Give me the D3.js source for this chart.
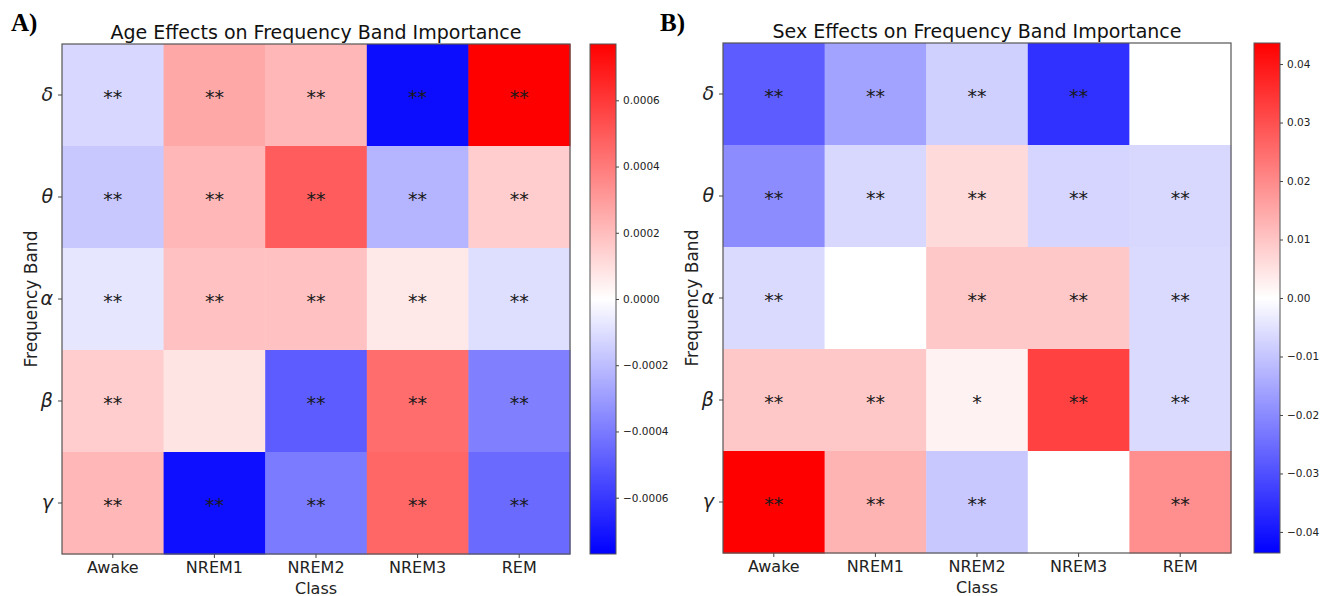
<!DOCTYPE html>
<html>
<head>
<meta charset="utf-8">
<script src="https://cdn.jsdelivr.net/npm/d3@7"></script>
<style>
  html, body { margin: 0; padding: 0; background: #fff; }
  svg { display: block; font-family: "DejaVu Sans", sans-serif; }
</style>
</head>
<body>
<svg id="chart" width="1322" height="596"></svg>
<script>
// ---- data ----
const classes = ["Awake", "NREM1", "NREM2", "NREM3", "REM"];
const bands = ["δ", "θ", "α", "β", "γ"];

// rows = bands (δ, θ, α, β, γ), columns = classes
const ageValues = [
  [-0.000121, 0.000263, 0.000218, -0.000735, 0.00077],
  [-0.000167, 0.000218, 0.00049, -0.000227, 0.000151],
  [-0.000076, 0.000188, 0.000188, 0.00007, -0.0001],
  [0.000151, 0.000082, -0.00049, 0.00044, -0.000385],
  [0.000218, -0.000725, -0.0004, 0.00046, -0.00045]
];
const ageStars = [
  ["**", "**", "**", "**", "**"],
  ["**", "**", "**", "**", "**"],
  ["**", "**", "**", "**", "**"],
  ["**", "", "**", "**", "**"],
  ["**", "**", "**", "**", "**"]
];
const sexValues = [
  [-0.0279, -0.0159, -0.008, -0.0354, 0],
  [-0.0197, -0.0067, 0.0063, -0.0072, -0.0067],
  [-0.0063, 0, 0.0094, 0.0094, -0.0063],
  [0.0094, 0.0094, 0.0022, 0.0325, -0.0063],
  [0.0436, 0.0128, -0.0094, 0, 0.0193]
];
const sexStars = [
  ["**", "**", "**", "**", ""],
  ["**", "**", "**", "**", "**"],
  ["**", "", "**", "**", "**"],
  ["**", "**", "*", "**", "**"],
  ["**", "**", "**", "", "**"]
];
const ageLimit = 0.00077;
const sexLimit = 0.0436;
const ageTicks = [-0.0006, -0.0004, -0.0002, 0, 0.0002, 0.0004, 0.0006];
const ageTickLabels = ["−0.0006", "−0.0004", "−0.0002", "0.0000", "0.0002", "0.0004", "0.0006"];
const sexTicks = [-0.04, -0.03, -0.02, -0.01, 0, 0.01, 0.02, 0.03, 0.04];
const sexTickLabels = ["−0.04", "−0.03", "−0.02", "−0.01", "0.00", "0.01", "0.02", "0.03", "0.04"];

const titles = ["Age Effects on Frequency Band Importance", "Sex Effects on Frequency Band Importance"];
const panelLabels = ["A)", "B)"];

// ---- drawing ----
const svg = d3.select("#chart");
const defs = svg.append("defs");

function drawPanel(opts) {
  const { id, left, right, top, bottom, values, stars, limit, ticks, tickLabels, title, label, labelX, cbLeft } = opts;
  const g = svg.append("g");

  const x = d3.scaleBand().domain(classes).range([left, right]);
  const y = d3.scaleBand().domain(bands).range([top, bottom]);
  const color = d3.scaleLinear().domain([-limit, 0, limit]).range(["#0000ff", "#ffffff", "#ff0000"]).clamp(true);

  const cells = [];
  bands.forEach((b, i) => classes.forEach((c, j) => cells.push({ b, c, v: values[i][j], s: stars[i][j] })));

  g.selectAll("rect.cell").data(cells).join("rect")
    .attr("class", "cell")
    .attr("x", d => x(d.c))
    .attr("y", d => y(d.b))
    .attr("width", x.bandwidth() + 0.5)
    .attr("height", y.bandwidth() + 0.5)
    .attr("fill", d => color(d.v));

  g.selectAll("text.star").data(cells).join("text")
    .attr("class", "star")
    .attr("x", d => x(d.c) + x.bandwidth() / 2)
    .attr("y", d => y(d.b) + y.bandwidth() / 2 + 9)
    .attr("text-anchor", "middle")
    .attr("font-size", 19)
    .attr("fill", "#1a1a1a")
    .text(d => d.s);

  // frame
  g.append("rect")
    .attr("x", left).attr("y", top)
    .attr("width", right - left).attr("height", bottom - top)
    .attr("fill", "none").attr("stroke", "#555").attr("stroke-width", 1.2);

  // x axis
  const xAxis = g.append("g").attr("transform", `translate(0,${bottom})`)
    .call(d3.axisBottom(x).tickSize(4).tickPadding(4));
  xAxis.select(".domain").remove();
  xAxis.selectAll(".tick line").attr("stroke", "#444");
  xAxis.selectAll(".tick text").attr("font-size", 16).attr("fill", "#222")
    .attr("font-family", "DejaVu Sans, sans-serif");

  // y axis
  const yAxis = g.append("g").attr("transform", `translate(${left},0)`)
    .call(d3.axisLeft(y).tickSize(4).tickPadding(5));
  yAxis.select(".domain").remove();
  yAxis.selectAll(".tick line").attr("stroke", "#444");
  yAxis.selectAll(".tick text").attr("font-size", 19).attr("fill", "#222")
    .attr("font-style", "italic")
    .attr("font-family", "DejaVu Sans, sans-serif");

  // axis titles
  g.append("text")
    .attr("x", (left + right) / 2).attr("y", bottom + 40)
    .attr("text-anchor", "middle").attr("font-size", 16).attr("fill", "#222")
    .text("Class");
  g.append("text")
    .attr("transform", `translate(${left - 25},${(top + bottom) / 2}) rotate(-90)`)
    .attr("text-anchor", "middle").attr("font-size", 17).attr("fill", "#222")
    .text("Frequency Band");

  // title
  g.append("text")
    .attr("x", (left + right) / 2).attr("y", top - 5)
    .attr("text-anchor", "middle").attr("font-size", 19).attr("fill", "#111")
    .text(title);

  // panel label
  g.append("text")
    .attr("x", labelX).attr("y", 31)
    .attr("font-family", "Liberation Serif, serif").attr("font-weight", "bold")
    .attr("font-size", 25).attr("fill", "#000")
    .text(label);

  // colorbar
  const cbW = 26;
  const cbScale = d3.scaleLinear().domain([-limit, limit]).range([bottom, top]);
  const grad = defs.append("linearGradient").attr("id", "grad" + id)
    .attr("x1", 0).attr("y1", 1).attr("x2", 0).attr("y2", 0);
  grad.append("stop").attr("offset", "0%").attr("stop-color", color(-limit));
  grad.append("stop").attr("offset", "50%").attr("stop-color", color(0));
  grad.append("stop").attr("offset", "100%").attr("stop-color", color(limit));
  g.append("rect")
    .attr("x", cbLeft).attr("y", top).attr("width", cbW).attr("height", bottom - top)
    .attr("fill", `url(#grad${id})`).attr("stroke", "#555").attr("stroke-width", 1);
  const cbAxis = g.append("g").attr("transform", `translate(${cbLeft + cbW},0)`)
    .call(d3.axisRight(cbScale).tickValues(ticks).tickFormat((d, i) => tickLabels[i]).tickSize(3).tickPadding(4));
  cbAxis.select(".domain").remove();
  cbAxis.selectAll(".tick line").attr("stroke", "#444");
  cbAxis.selectAll(".tick text").attr("font-size", 10.5).attr("fill", "#222")
    .attr("font-family", "DejaVu Sans, sans-serif");
}

drawPanel({
  id: "A", left: 62, right: 570, top: 44, bottom: 554,
  values: ageValues, stars: ageStars, limit: ageLimit,
  ticks: ageTicks, tickLabels: ageTickLabels,
  title: titles[0], label: panelLabels[0], labelX: 11, cbLeft: 590
});
drawPanel({
  id: "B", left: 723, right: 1231, top: 43, bottom: 553,
  values: sexValues, stars: sexStars, limit: sexLimit,
  ticks: sexTicks, tickLabels: sexTickLabels,
  title: titles[1], label: panelLabels[1], labelX: 660, cbLeft: 1254
});
</script>
</body>
</html>
